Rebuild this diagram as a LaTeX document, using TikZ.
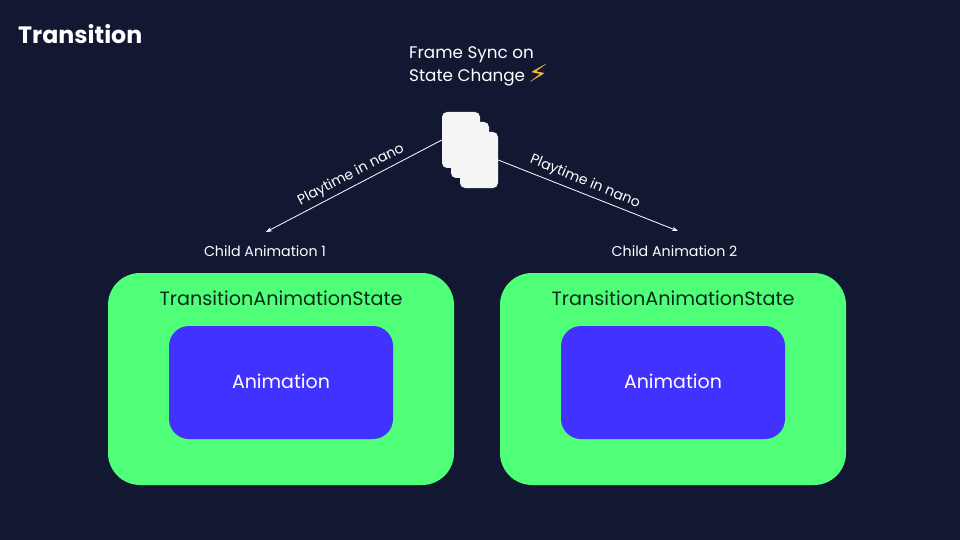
\documentclass[tikz,border=0pt]{standalone}
\usepackage{fontspec}
\setmainfont{Poppins}
\newfontfamily\boltfont{DejaVu Sans}
\usetikzlibrary{arrows.meta}
\definecolor{bgc}{HTML}{131832}
\definecolor{greenc}{HTML}{50FF78}
\definecolor{bluec}{HTML}{4232FF}
\definecolor{cardc}{HTML}{F5F5F5}
\definecolor{darkt}{HTML}{0A2A1A}
\definecolor{boltc}{HTML}{F5B82E}
\tikzset{
  x=1pt,y=-1pt,
  outerbox/.style={fill=greenc,rounded corners=32pt,minimum width=346pt,minimum height=212pt,inner sep=0pt},
  innerbox/.style={fill=bluec,rounded corners=20pt,minimum width=224pt,minimum height=113pt,inner sep=0pt},
  innerlabel/.style={inner sep=0pt,text=white,font=\fontsize{19}{23}\selectfont},
  cardbox/.style={fill=cardc,rounded corners=5pt,minimum width=38pt,minimum height=56pt,inner sep=0pt},
  txt/.style={text=white,inner sep=0pt},
  statelabel/.style={inner sep=0pt,text=darkt,font=\fontsize{19.2}{23}\selectfont},
  childlabel/.style={txt,font=\fontsize{14.2}{17}\selectfont},
  playlabel/.style={txt,font=\fontsize{14.1}{17}\selectfont},
  conn/.style={draw=white,line width=0.8pt,-{Stealth[length=6pt,width=4.5pt]}}
}
\begin{document}
\begin{tikzpicture}
\path[use as bounding box,fill=bgc] (0,0) rectangle (960,540);
\node[txt,anchor=west,font=\fontsize{23.7}{28}\bfseries\selectfont] (title) at (18,34) {Transition};
\node[txt,anchor=west,font=\fontsize{16.8}{20}\selectfont] (sync1) at (409,54.5) {Frame Sync on};
\node[txt,anchor=west,font=\fontsize{16.8}{20}\selectfont] (sync2) at (409,77.5) {State Change};
\node[inner sep=0pt,text=boltc,font=\boltfont\fontsize{22}{22}\selectfont] (bolt) at (538,74) {\scalebox{1.35}[1.12]{⚡}};
\node[cardbox] (c1) at (461,140) {};
\node[cardbox] (c2) at (470,150) {};
\node[cardbox] (c3) at (479,160) {};
\coordinate (t1) at (266,232);
\coordinate (t2) at (678,231);
\draw[conn] (c1.west) -- (t1);
\draw[conn] (c3.east) -- (t2);
\node[playlabel,rotate=27.6] (p1) at (351,175) {Playtime in nano};
\node[playlabel,rotate=-22.5] (p2) at (585,182) {Playtime in nano};
\node[childlabel] (ch1) at (265,251) {Child Animation 1};
\node[childlabel] (ch2) at (674.5,251) {Child Animation 2};
\node[outerbox] (o1) at (281,379) {};
\node[outerbox] (o2) at (673,379) {};
\node[statelabel] (s1) at (281,298) {TransitionAnimationState};
\node[statelabel] (s2) at (673,298) {TransitionAnimationState};
\node[innerbox] (a1) at (281,382.5) {};
\node[innerbox] (a2) at (673,382.5) {};
\node[innerlabel] (l1) at (281,381) {Animation};
\node[innerlabel] (l2) at (673,381) {Animation};
\end{tikzpicture}
\end{document}
